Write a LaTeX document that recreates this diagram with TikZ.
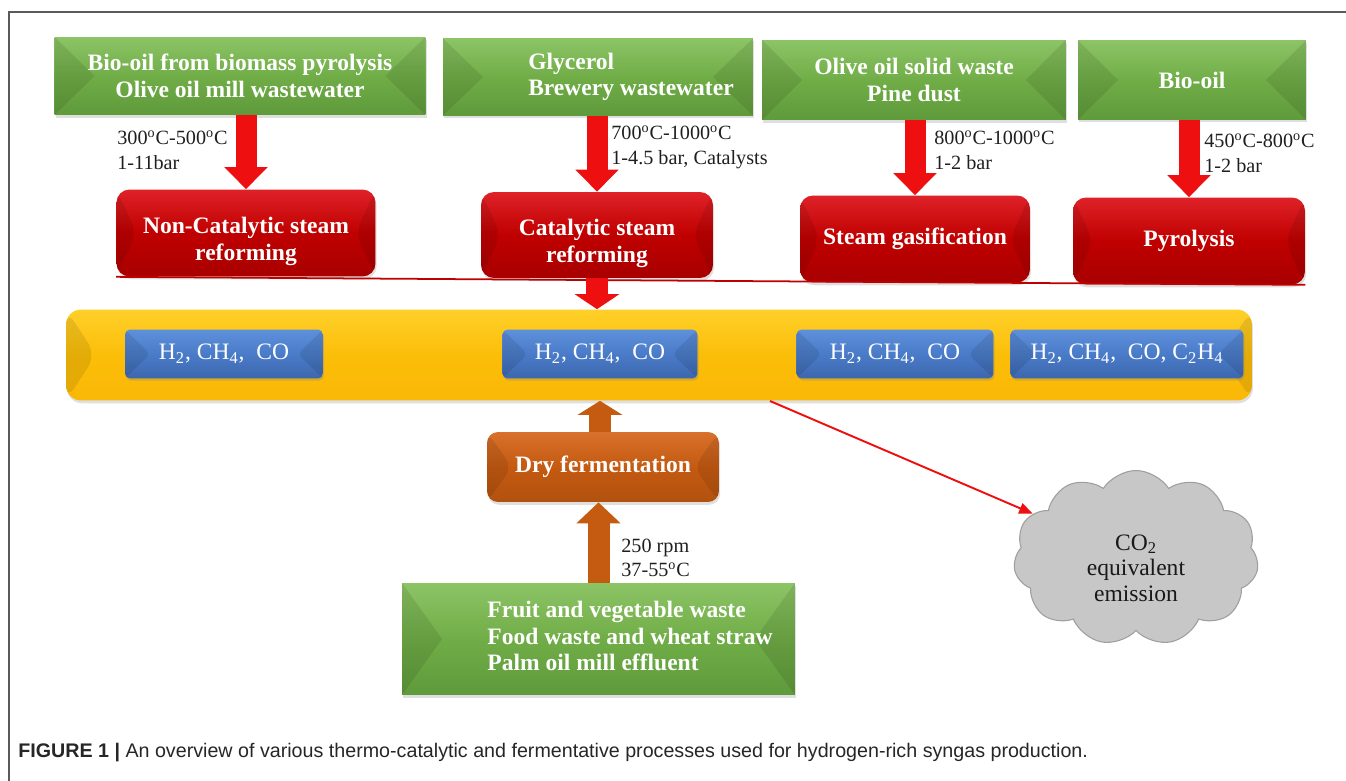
\documentclass[tikz,border=0pt]{standalone}
\usepackage{fontspec}
\setmainfont{Liberation Serif}
\setsansfont{Liberation Sans}
\usepackage{tikz}
\usetikzlibrary{
  arrows.meta,
  calc,
  positioning,
  shapes.symbols,
  shadows
}
\definecolor{feedgreen}{HTML}{70AD47}
\definecolor{feedtop}{HTML}{8CC466}
\definecolor{feedbot}{HTML}{5F9A3B}
\definecolor{procred}{HTML}{C00000}
\definecolor{proctop}{HTML}{DE2228}
\definecolor{procbot}{HTML}{A80000}
\definecolor{gasblue}{HTML}{4A7BC8}
\definecolor{gastop}{HTML}{5E90DB}
\definecolor{gasbot}{HTML}{3D67AE}
\definecolor{bandgold}{HTML}{FBBE08}
\definecolor{bandtop}{HTML}{FFD02A}
\definecolor{fermorange}{HTML}{C55A11}
\definecolor{fermtop}{HTML}{D8712C}
\definecolor{arrowred}{HTML}{EE1010}
\definecolor{framegray}{HTML}{5A5A5A}

% text block shifted down inside its box
\newcommand{\lowtext}[2]{\raisebox{#1}[0pt][0pt]{\begin{tabular}{@{}c@{}}#2\end{tabular}}}

\begin{document}
\begin{tikzpicture}[x=0.02cm,y=-0.02cm,
  facet/.style={path picture={
      \fill[black,opacity=.09] (path picture bounding box.north west) -- ([xshift=#1]path picture bounding box.west) -- (path picture bounding box.south west) -- cycle;
      \fill[black,opacity=.09] (path picture bounding box.north east) -- ([xshift=-#1]path picture bounding box.east) -- (path picture bounding box.south east) -- cycle;}},
  facet/.default=0.8cm,
  feed/.style={rectangle, top color=feedtop, bottom color=feedbot, middle color=feedgreen,
    text=white, font=\fontsize{13.4}{15}\selectfont\bfseries, align=center, inner sep=0pt, facet,
    drop shadow={shadow xshift=0.6pt, shadow yshift=-1.6pt, opacity=0.25}},
  proc/.style={rectangle, rounded corners=0.26cm, top color=proctop, bottom color=procbot, middle color=procred,
    text=white, font=\fontsize{13.4}{15}\selectfont\bfseries, align=center, inner sep=0pt, facet=0.4cm,
    drop shadow={shadow xshift=0.6pt, shadow yshift=-1.6pt, opacity=0.25}},
  gas/.style={rectangle, rounded corners=0.1cm, top color=gastop, bottom color=gasbot, middle color=gasblue,
    text=white, font=\fontsize{13.4}{15}\selectfont, inner sep=0pt, minimum height=0.98cm, facet=0.5cm,
    drop shadow={shadow xshift=0.6pt, shadow yshift=-1.2pt, opacity=0.3}},
  band/.style={rectangle, rounded corners=0.3cm, top color=bandtop, bottom color=bandgold!90!orange, middle color=bandgold,
    inner sep=0pt, facet=0.6cm, drop shadow={shadow xshift=0.6pt, shadow yshift=-1.6pt, opacity=0.25}},
  ferm/.style={rectangle, rounded corners=0.22cm, top color=fermtop, bottom color=fermorange!90!black, middle color=fermorange,
    text=white, font=\fontsize{13.4}{15}\selectfont\bfseries, inner sep=0pt, facet=0.5cm,
    drop shadow={shadow xshift=0.6pt, shadow yshift=-1.6pt, opacity=0.25}},
  cond/.style={font=\fontsize{11.5}{13.8}\selectfont, text=black!88, align=left, inner sep=0pt, anchor=west},
  fatred/.style={arrowred, line width=0.42cm, -{Triangle[length=0.44cm,width=0.84cm]}},
  fatbrown/.style={fermorange, line width=0.44cm, -{Triangle[length=0.42cm,width=0.86cm]}},
  thinred/.style={arrowred, line width=1.1pt, -{Triangle[length=0.27cm,width=0.22cm]}}]

  \useasboundingbox (0,0) rectangle (1346,781);
  % frame
  \draw[framegray, line width=0.8pt] (9,781) -- (9,12) -- (1346,12);

  % feedstocks
  \node[feed, minimum width=7.42cm, minimum height=1.56cm] (Bio) at (240,76)
    {Bio-oil from biomass pyrolysis\\Olive oil mill wastewater};
  \node[feed, minimum width=6.2cm, minimum height=1.54cm] (Gly) at (598,77)
    {\hspace*{1.32cm}\begin{tabular}{@{}l@{}}Glycerol\\Brewery wastewater\end{tabular}};
  \node[feed, minimum width=6.08cm, minimum height=1.6cm] (Olive) at (914,80)
    {Olive oil solid waste\\Pine dust};
  \node[feed, minimum width=4.56cm, minimum height=1.58cm] (BioOil) at (1192,80) {Bio-oil};

  % processes
  \node[proc, minimum width=5.18cm, minimum height=1.74cm] (NCSR) at (246,233)
    {\lowtext{-0.3cm}{Non-Catalytic steam\\reforming}};
  \node[proc, minimum width=4.64cm, minimum height=1.72cm] (CSR) at (597,235)
    {\lowtext{-0.3cm}{Catalytic steam\\reforming}};
  \node[proc, minimum width=4.6cm, minimum height=1.74cm] (SG) at (915,239) {Steam gasification};
  \node[proc, minimum width=4.64cm, minimum height=1.74cm] (Pyro) at (1189,241) {Pyrolysis};

  \draw[procred, line width=1pt] (NCSR.south west) -- (Pyro.south east);

  % conditions
  \node[cond] (tNCSR) at (117,150) {300\textsuperscript{o}C-500\textsuperscript{o}C\\1-11bar};
  \node[cond] (tCSR) at (611,147) {700\textsuperscript{o}C-1000\textsuperscript{o}C\\1-4.5 bar, Catalysts};
  \node[cond] (tSG) at (934,150) {800\textsuperscript{o}C-1000\textsuperscript{o}C\\1-2 bar};
  \node[cond] (tPyro) at (1204,153) {450\textsuperscript{o}C-800\textsuperscript{o}C\\1-2 bar};

  \draw[fatred] (NCSR.north |- Bio.south) -- (NCSR.north);
  \draw[fatred] (CSR.north |- Gly.south) -- (CSR.north);
  \draw[fatred] (SG.north |- Olive.south) -- (SG.north);
  \draw[fatred] (Pyro.north |- BioOil.south) -- (Pyro.north);

  % syngas
  \node[band, minimum width=23.72cm, minimum height=1.82cm] (band) at (659,355) {};
  \node[gas, minimum width=3.96cm] (H1) at (224,354) {H\textsubscript{2}, CH\textsubscript{4},\ \ CO};
  \node[gas, minimum width=3.9cm] (H2) at (600,354) {H\textsubscript{2}, CH\textsubscript{4},\ \ CO};
  \node[gas, minimum width=3.94cm] (H3) at (895,354) {H\textsubscript{2}, CH\textsubscript{4},\ \ CO};
  \node[gas, minimum width=4.66cm] (H4) at (1127,354) {H\textsubscript{2}, CH\textsubscript{4},\ \ CO, C\textsubscript{2}H\textsubscript{4}};

  \draw[fatred, line width=0.44cm, -{Triangle[length=0.3cm,width=0.88cm]}] (CSR.south) -- (CSR.south |- band.north);

  % fermentation
  \node[ferm, minimum width=4.64cm, minimum height=1.4cm] (DF) at (603,467) {Dry fermentation};
  \node[feed, minimum width=7.86cm, minimum height=2.24cm] (Fruit) at (598.5,639)
    {\hspace*{1.26cm}\begin{tabular}{@{}l@{}}Fruit and vegetable waste\\Food waste and wheat straw\\Palm oil mill effluent\end{tabular}};
  \node[cond] (tDF) at (621,558) {250 rpm\\37-55\textsuperscript{o}C};

  \draw[fatbrown, -{Triangle[length=0.28cm,width=0.88cm]}] (DF.north -| H2) -- (H2 |- band.south);
  \draw[fatbrown] (Fruit.north) -- (Fruit.north |- DF.south);

  % emission
  \node[cloud, cloud puffs=11, cloud puff arc=115, cloud ignores aspect, minimum width=4.9cm, minimum height=3.5cm,
    fill=black!22, draw=black!38, line width=0.6pt, inner sep=0pt,
    font=\fontsize{13.4}{14.6}\selectfont, text=black!90] (CO2) at (1136,558)
    {\lowtext{-0.38cm}{CO\textsubscript{2}\\equivalent\\emission}};
  \coordinate (emit) at (770,401);
  \draw[thinred] (emit) -- (CO2);

  % caption
  \node[anchor=base west, inner sep=0pt, font=\fontsize{11.2}{13}\selectfont\sffamily, text=black!85] (cap) at (18,757)
    {\textbf{FIGURE 1 |} An overview of various thermo-catalytic and fermentative processes used for hydrogen-rich syngas production.};
\end{tikzpicture}
\end{document}
